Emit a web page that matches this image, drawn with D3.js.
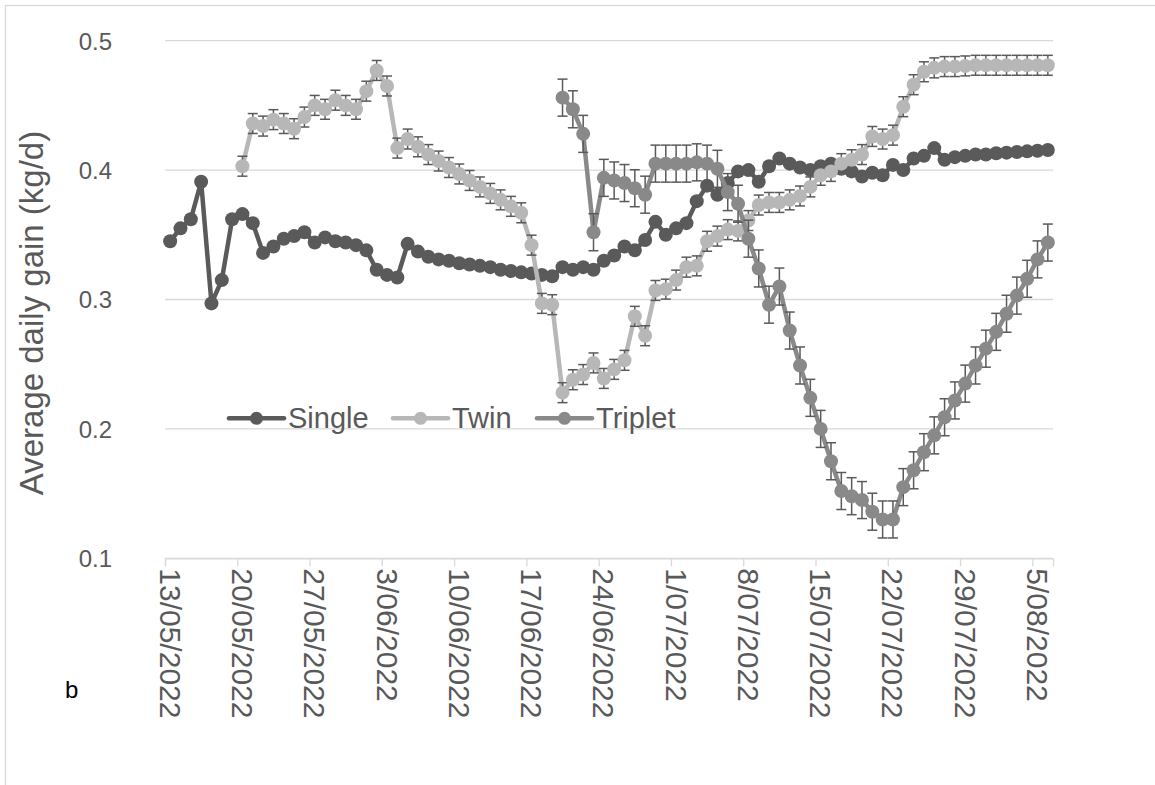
<!DOCTYPE html>
<html>
<head>
<meta charset="utf-8">
<script src="https://cdn.jsdelivr.net/npm/d3@7"></script>
<style>
  html, body { margin: 0; padding: 0; background: #ffffff; }
  svg { display: block; }
</style>
</head>
<body>
<svg id="chart" width="1155" height="785"></svg>
<script>
// ---------- DATA ----------
const startDate = "2022-05-13";   // first daily observation
const endDate = "2022-08-07";     // axis end (exclusive)
const seriesNames = ["Single", "Twin", "Triplet"];

const singleValues = [
  0.345, 0.355, 0.362, 0.391, 0.297, 0.315, 0.362, 0.366, 0.359, 0.336,
  0.341, 0.347, 0.349, 0.352, 0.344, 0.348, 0.345, 0.344, 0.342, 0.338,
  0.323, 0.319, 0.317, 0.343, 0.337, 0.333, 0.331, 0.330, 0.328, 0.327,
  0.326, 0.325, 0.323, 0.322, 0.321, 0.320, 0.319, 0.318, 0.325, 0.323,
  0.325, 0.323, 0.330, 0.334, 0.341, 0.338, 0.346, 0.360, 0.350, 0.355,
  0.359, 0.376, 0.388, 0.381, 0.390, 0.399, 0.400, 0.391, 0.403, 0.409,
  0.405, 0.402, 0.400, 0.403, 0.405, 0.401, 0.399, 0.395, 0.398, 0.396,
  0.404, 0.400, 0.409, 0.411, 0.417, 0.408, 0.410, 0.411, 0.412, 0.412,
  0.413, 0.4135, 0.414, 0.4145, 0.415, 0.4155
];

const twinValues = [
  null, null, null, null, null, null, null, 0.403, 0.436, 0.434,
  0.439, 0.436, 0.432, 0.441, 0.450, 0.447, 0.454, 0.450, 0.447, 0.461,
  0.477, 0.465, 0.417, 0.424, 0.418, 0.412, 0.407, 0.402, 0.397, 0.392,
  0.387, 0.382, 0.377, 0.372, 0.367, 0.342, 0.297, 0.296, 0.228, 0.238,
  0.242, 0.251, 0.239, 0.246, 0.253, 0.287, 0.272, 0.307, 0.308, 0.315,
  0.325, 0.326, 0.345, 0.349, 0.354, 0.353, 0.361, 0.373, 0.375, 0.375,
  0.377, 0.380, 0.387, 0.396, 0.399, 0.405, 0.408, 0.412, 0.426, 0.424,
  0.427, 0.449, 0.466, 0.476, 0.479, 0.480, 0.480, 0.4805, 0.481, 0.481,
  0.481, 0.481, 0.481, 0.481, 0.481, 0.481
];

const tripletValues = [
  null, null, null, null, null, null, null, null, null, null,
  null, null, null, null, null, null, null, null, null, null,
  null, null, null, null, null, null, null, null, null, null,
  null, null, null, null, null, null, null, null, 0.456, 0.447,
  0.428, 0.352, 0.394, 0.392, 0.390, 0.386, 0.381, 0.405, 0.405, 0.405,
  0.405, 0.406, 0.405, 0.401, 0.383, 0.374, 0.347, 0.324, 0.296, 0.310,
  0.276, 0.249, 0.224, 0.200, 0.175, 0.152, 0.148, 0.145, 0.136, 0.130,
  0.130, 0.155, 0.168, 0.182, 0.195, 0.209, 0.222, 0.235, 0.249, 0.262,
  0.275, 0.289, 0.303, 0.316, 0.331, 0.344
];

// error bar half-widths (Excel standard error, constant per series)
const singleErr = 0;
const twinErr = 0.0077;
const tripletErr = 0.0143;

const yTicks = [0.1, 0.2, 0.3, 0.4, 0.5];
const xTickLabels = [
  "13/05/2022", "20/05/2022", "27/05/2022", "3/06/2022", "10/06/2022",
  "17/06/2022", "24/06/2022", "1/07/2022", "8/07/2022", "15/07/2022",
  "22/07/2022", "29/07/2022", "5/08/2022"
];
const yTitle = "Average daily gain (kg/d)";
const panelLabel = "b";

// ---------- STYLE ----------
const colors = { Single: "#5a5a5a", Twin: "#b7b7b7", Triplet: "#898989" };
const errColor = "#5a5a5a";
const gridColor = "#d9d9d9";
const textColor = "#595959";

// ---------- SCALES ----------
const parse = d3.timeParse("%Y-%m-%d");
const d0 = parse(startDate), d1 = parse(endDate);
const margin = { left: 165, right: 1053, top: 40.7, bottom: 558.3 };

const x = d3.scaleTime().domain([d0, d1]).range([margin.left, margin.right]);
const y = d3.scaleLinear().domain([0.1, 0.5]).range([margin.bottom, margin.top]);

const dayCenter = i => d3.timeHour.offset(d3.timeDay.offset(d0, i), 12);

const svg = d3.select("#chart");

// outer chart border
svg.append("rect").attr("x", 5.5).attr("y", 5.5).attr("width", 1200).attr("height", 900)
  .attr("fill", "none").attr("stroke", gridColor).attr("stroke-width", 1.3);

// gridlines
svg.append("g").selectAll("line").data(yTicks).join("line")
  .attr("x1", margin.left).attr("x2", margin.right)
  .attr("y1", d => y(d)).attr("y2", d => y(d))
  .attr("stroke", gridColor).attr("stroke-width", 1.3);

// y-axis labels
const yAxis = d3.axisLeft(y).tickValues(yTicks).tickFormat(d3.format(".1f")).tickSize(0).tickPadding(0);
const gy = svg.append("g").attr("transform", `translate(${margin.left - 53},0)`).call(yAxis);
gy.select(".domain").remove();
gy.selectAll("text").attr("fill", textColor).style("font-family", "Liberation Sans, Arial, sans-serif")
  .style("font-size", "24px").attr("text-anchor", "end").attr("dy", "0.35em");

// x-axis ticks (weekly)
const tickDates = xTickLabels.map((_, i) => d3.timeDay.offset(d0, i * 7));
const xAxis = d3.axisBottom(x).tickValues(tickDates).tickSize(8).tickFormat("");
const gx = svg.append("g").attr("transform", `translate(0,${margin.bottom})`).call(xAxis);
gx.select(".domain").attr("stroke", gridColor).attr("stroke-width", 1.3);
gx.selectAll(".tick line").attr("stroke", gridColor).attr("stroke-width", 1.3);

// x tick labels, rotated, centred on each day band
svg.append("g").selectAll("text").data(xTickLabels).join("text")
  .attr("transform", (d, i) => `translate(${x(dayCenter(i * 7))},${margin.bottom + 10}) rotate(90)`)
  .attr("dy", "0.35em")
  .attr("text-anchor", "start")
  .attr("fill", textColor)
  .style("font-family", "Liberation Sans, Arial, sans-serif")
  .style("font-size", "30px")
  .text(d => d);

// y title
svg.append("text")
  .attr("transform", `translate(43,313) rotate(-90)`)
  .attr("text-anchor", "middle")
  .attr("fill", textColor)
  .style("font-family", "Liberation Sans, Arial, sans-serif")
  .style("font-size", "33px")
  .text(yTitle);

// panel label
svg.append("text").attr("x", 65).attr("y", 698)
  .attr("fill", "#000").style("font-family", "Liberation Sans, Arial, sans-serif")
  .style("font-size", "24px").text(panelLabel);

// ---------- SERIES ----------
const series = [
  { name: "Single", values: singleValues, err: singleErr },
  { name: "Twin", values: twinValues, err: twinErr },
  { name: "Triplet", values: tripletValues, err: tripletErr }
];

const line = d3.line()
  .defined(d => d.v !== null)
  .x(d => x(dayCenter(d.i)))
  .y(d => y(d.v));

series.forEach(s => {
  const pts = s.values.map((v, i) => ({ i, v }));
  const valid = pts.filter(d => d.v !== null);
  const g = svg.append("g");

  g.append("path").datum(pts)
    .attr("d", line).attr("fill", "none")
    .attr("stroke", colors[s.name]).attr("stroke-width", 4.5)
    .attr("stroke-linejoin", "round").attr("stroke-linecap", "round");

  if (s.err > 0) {
    const eb = g.append("g").selectAll("g").data(valid).join("g");
    eb.append("line")
      .attr("x1", d => x(dayCenter(d.i))).attr("x2", d => x(dayCenter(d.i)))
      .attr("y1", d => y(d.v - s.err)).attr("y2", d => y(d.v + s.err))
      .attr("stroke", errColor).attr("stroke-width", 1.5);
    [1, -1].forEach(sign => {
      eb.append("line")
        .attr("x1", d => x(dayCenter(d.i)) - 5).attr("x2", d => x(dayCenter(d.i)) + 5)
        .attr("y1", d => y(d.v + sign * s.err)).attr("y2", d => y(d.v + sign * s.err))
        .attr("stroke", errColor).attr("stroke-width", 1.5);
    });
  }

  g.append("g").selectAll("circle").data(valid).join("circle")
    .attr("cx", d => x(dayCenter(d.i))).attr("cy", d => y(d.v))
    .attr("r", 7).attr("fill", colors[s.name]);
});

// ---------- LEGEND ----------
const legendItems = [
  { name: "Single", x0: 229 },
  { name: "Twin", x0: 393 },
  { name: "Triplet", x0: 537 }
];
const lg = svg.append("g");
legendItems.forEach(it => {
  const ly = 418.3;
  lg.append("line").attr("x1", it.x0).attr("x2", it.x0 + 55).attr("y1", ly).attr("y2", ly)
    .attr("stroke", colors[it.name]).attr("stroke-width", 4.5).attr("stroke-linecap", "round");
  lg.append("circle").attr("cx", it.x0 + 27.5).attr("cy", ly).attr("r", 6.5).attr("fill", colors[it.name]);
  lg.append("text").attr("x", it.x0 + 59).attr("y", ly + 9.5)
    .attr("fill", textColor).style("font-family", "Liberation Sans, Arial, sans-serif")
    .style("font-size", "29px").text(it.name);
});
</script>
</body>
</html>
